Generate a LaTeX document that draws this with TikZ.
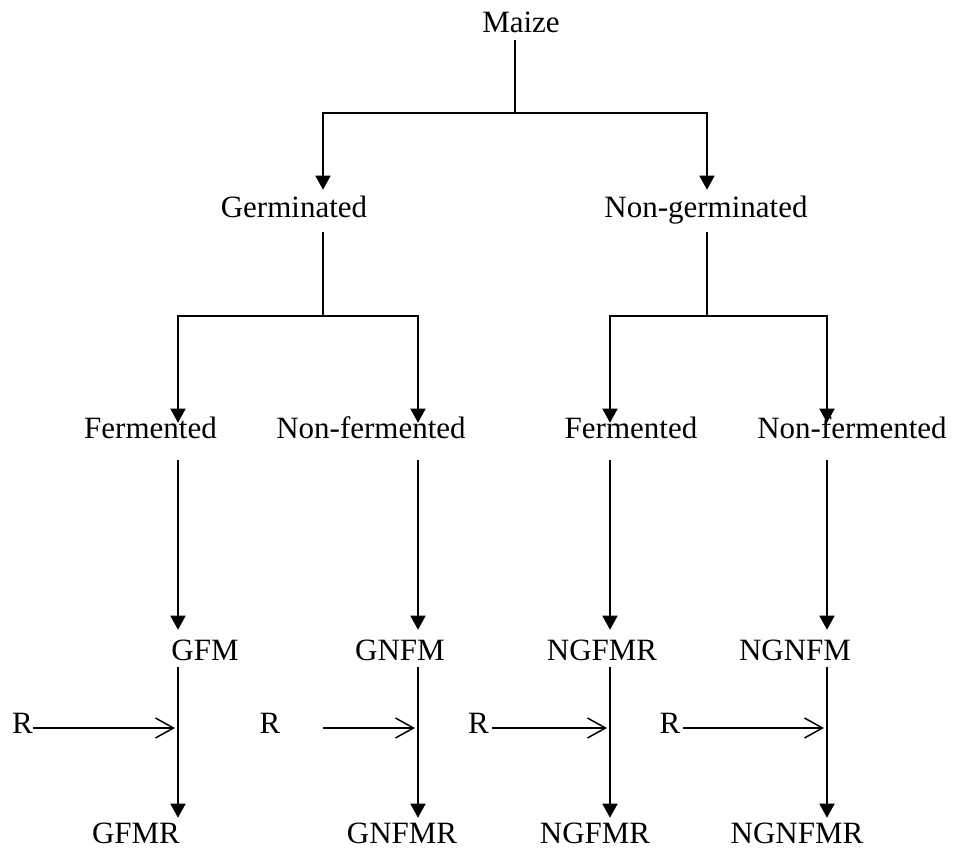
\documentclass[tikz,border=0pt]{standalone}
\usepackage{fontspec}
\setmainfont{Liberation Serif}
\usetikzlibrary{arrows.meta}

\begin{document}
\begin{tikzpicture}[x=0.75pt,y=-0.75pt,
  lbl/.style={anchor=base,inner sep=0pt,text height=15.75pt,text depth=0pt,font=\fontsize{23.25}{28}\selectfont},
  rlbl/.style={lbl,text height=7.5pt},
  line/.style={line width=1.1pt},
  arr/.style={line width=1.1pt,-{Triangle[width=11.25pt,length=10.5pt]}},
  rarr/.style={line width=1.1pt,-{Straight Barb[width=15pt,length=13.5pt]}}]
\useasboundingbox (0,0) rectangle (953,848);
% Maize
\node[lbl] (maize) at (521,33) {Maize};
\coordinate (mbar) at (515,113);
\draw[line,shorten <=5.25pt] (maize.south -| mbar) -- (mbar);
% Germinated / Non-germinated
\node[lbl] (ger) at (294,218) {Germinated};
\node[lbl] (nger) at (706,218) {Non-germinated};
\coordinate (gbar) at (323,316);
\coordinate (ngbar) at (707,316);
\draw[arr,shorten >=5.25pt] (mbar) -| (ger.north -| gbar);
\draw[arr,shorten >=5.25pt] (mbar) -| (nger.north -| ngbar);
\draw[line,shorten <=10.5pt] (ger.south -| gbar) -- (gbar);
\draw[line,shorten <=10.5pt] (nger.south -| ngbar) -- (ngbar);
% Fermented / Non-fermented
\node[lbl] (f1) at (150.5,438) {Fermented};
\node[lbl] (nf1) at (371,438) {Non-fermented};
\node[lbl] (f2) at (631,438) {Fermented};
\node[lbl] (nf2) at (852,438) {Non-fermented};
\coordinate (c1) at (178,316);
\coordinate (c2) at (418,316);
\coordinate (c3) at (610,316);
\coordinate (c4) at (827,316);
\draw[arr,shorten >=-4.5pt] (gbar) -| (f1.north -| c1);
\draw[arr,shorten >=-4.5pt] (gbar) -| (nf1.north -| c2);
\draw[arr,shorten >=-4.5pt] (ngbar) -| (f2.north -| c3);
\draw[arr,shorten >=-4.5pt] (ngbar) -| (nf2.north -| c4);
% Produits
\node[lbl] (gfm) at (205,660) {GFM};
\node[lbl] (gnfm) at (400,660) {GNFM};
\node[lbl] (ngfm) at (602,660) {NGFMR};
\node[lbl] (ngnfm) at (795,660) {NGNFM};
\draw[arr,shorten <=16.5pt,shorten >=6.75pt] (f1.south -| c1) -- (gfm.north -| c1);
\draw[arr,shorten <=16.5pt,shorten >=6.75pt] (nf1.south -| c2) -- (gnfm.north -| c2);
\draw[arr,shorten <=16.5pt,shorten >=6.75pt] (f2.south -| c3) -- (ngfm.north -| c3);
\draw[arr,shorten <=16.5pt,shorten >=6.75pt] (nf2.south -| c4) -- (ngnfm.north -| c4);
% Produits + R
\node[lbl] (gfmr) at (136,843) {GFMR};
\node[lbl] (gnfmr) at (402,843) {GNFMR};
\node[lbl] (ngfmr) at (595,843) {NGFMR};
\node[lbl] (ngnfmr) at (797,843) {NGNFMR};
\draw[arr,shorten <=5.25pt,shorten >=3pt] (gfm.south -| c1) -- (gfmr.north -| c1);
\draw[arr,shorten <=5.25pt,shorten >=3pt] (gnfm.south -| c2) -- (gnfmr.north -| c2);
\draw[arr,shorten <=5.25pt,shorten >=3pt] (ngfm.south -| c3) -- (ngfmr.north -| c3);
\draw[arr,shorten <=5.25pt,shorten >=3pt] (ngnfm.south -| c4) -- (ngnfmr.north -| c4);
% R
\node[rlbl] (r1) at (22.5,733) {R};
\node[rlbl] (r2) at (270,733) {R};
\node[rlbl] (r3) at (478.5,733) {R};
\node[rlbl] (r4) at (670,733) {R};
\draw[rarr,shorten >=2.25pt] (r1.east) -- (r1.east -| c1);
\draw[rarr,shorten <=31.5pt,shorten >=2.25pt] (r2.east) -- (r2.east -| c2);
\draw[rarr,shorten <=2.25pt,shorten >=2.25pt] (r3.east) -- (r3.east -| c3);
\draw[rarr,shorten <=1.5pt,shorten >=2.25pt] (r4.east) -- (r4.east -| c4);
\end{tikzpicture}
\end{document}
